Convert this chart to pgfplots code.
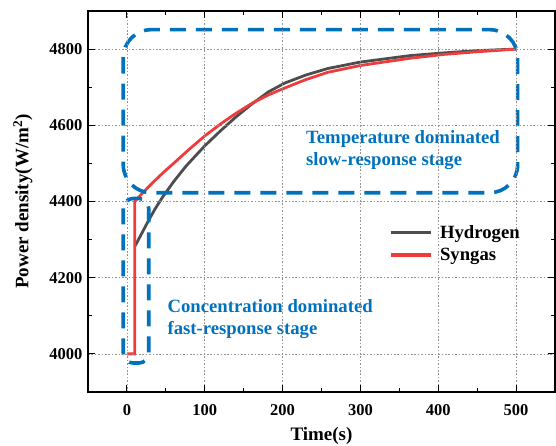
\documentclass[border=0pt]{standalone}
\usepackage{pgfplots}
\pgfplotsset{compat=1.18}
\usepackage{fontspec}
\setmainfont{Liberation Serif}
\definecolor{hyd}{RGB}{77,77,77}
\definecolor{syn}{RGB}{238,60,60}
\definecolor{boxblue}{RGB}{0,114,189}
\begin{document}
\begin{tikzpicture}
\begin{axis}[
  scale only axis,
  width=467pt, height=381pt,
  xmin=-50, xmax=550, ymin=3900, ymax=4900,
  xtick={0,100,...,500}, ytick={4000,4200,...,4800},
  minor xtick={-50,50,150,250,350,450,550},
  minor ytick={4100,4300,4500,4700},
  tick align=inside, tick pos=both,
  major tick length=7pt, minor tick length=4pt,
  tick style={black, line width=1.1pt},
  axis line style={line width=1.4pt},
  axis on top,
  grid=major,
  major grid style={gray!85, line width=0.7pt, dash pattern=on 1.6pt off 1.8pt},
  /pgf/number format/assume math mode=true,
  /pgf/number format/1000 sep={},
  ticklabel style={font=\fontsize{16.5}{19}\selectfont\bfseries},
  xticklabel style={yshift=-9pt},
  yticklabel style={xshift=-2pt},
  xlabel={Time(s)}, ylabel={Power density(W/m$^{\mathbf{2}}$)},
  label style={font=\fontsize{19}{22}\selectfont\bfseries},
  xlabel style={yshift=-5pt},
  ylabel style={yshift=10pt},
  legend style={draw=none, fill=none, at={(axis cs:334,4289)}, anchor=west,
    font=\fontsize{18.7}{21}\selectfont\bfseries, row sep=4pt, inner sep=2pt},
  legend cell align=left,
  legend image code/.code={\draw[#1, line width=3.2pt] (0pt,0pt) -- (40pt,0pt); \path (46pt,0pt);},
]
\addplot[hyd, line width=2.8pt] coordinates {
(10,4282) (12,4289) (20,4320) (27,4347) (36,4380) (46,4412) (60,4452) (76,4493) (100,4546)
(120,4585) (139,4620) (160,4655) (182,4688) (203,4711) (230,4732) (258,4749) (300,4766)
(364,4783) (407,4790) (450,4796) (500,4800)};
\addlegendentry{Hydrogen}
\addplot[syn, line width=2.8pt] coordinates {
(0,4000) (10,4000) (10,4400) (20,4422) (30,4443) (40,4463) (50,4482) (60,4500) (80,4537) (100,4572)
(120,4603) (139,4630) (161,4658) (182,4680) (203,4698) (230,4720) (258,4739) (300,4757)
(364,4776) (407,4786) (450,4793) (500,4800)};
\addlegendentry{Syngas}
\draw[boxblue, line width=3.6pt, dash pattern=on 16pt off 10pt, rounded corners=28pt]
  (axis cs:-4.7,4851) rectangle (axis cs:502,4423);
\draw[boxblue, line width=3.6pt, dash pattern=on 16pt off 10pt, rounded corners=10pt]
  (axis cs:-4.7,4408) rectangle (axis cs:28,3976);
\node[anchor=west, align=left, text=boxblue, font=\fontsize{18.7}{22}\selectfont\bfseries, inner sep=0pt]
  at (axis cs:230,4536) {Temperature dominated\\slow-response stage};
\node[anchor=west, align=left, text=boxblue, font=\fontsize{18.7}{22}\selectfont\bfseries, inner sep=0pt]
  at (axis cs:52,4092) {Concentration dominated\\fast-response stage};
\end{axis}
\pgfresetboundingbox
\path[use as bounding box] ([shift={(-88pt,-54pt)}]current axis.south west) rectangle ([shift={(1pt,11pt)}]current axis.north east);
\end{tikzpicture}
\end{document}
